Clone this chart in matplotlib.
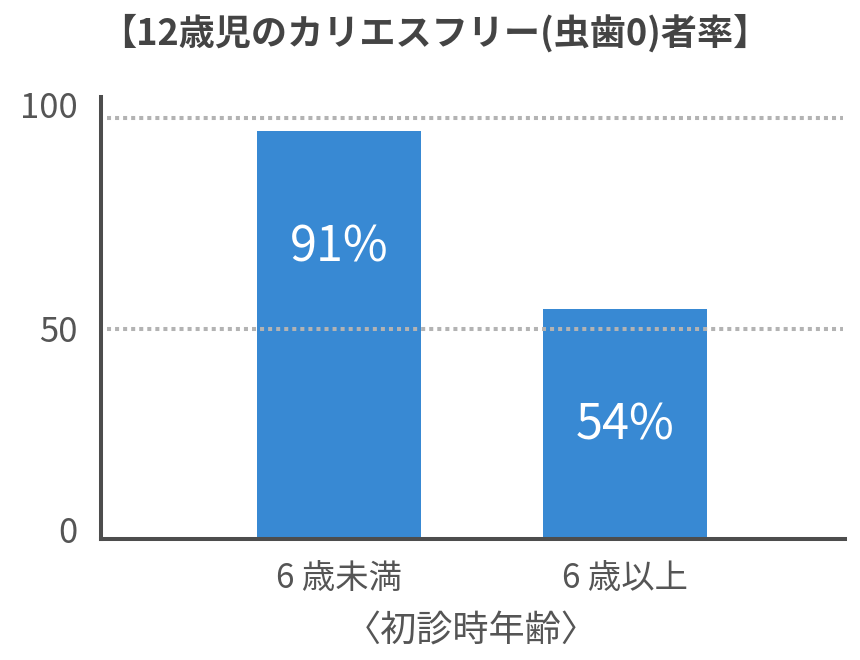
import matplotlib
matplotlib.use("Agg")
import matplotlib.pyplot as plt

plt.rcParams['font.family'] = ['Noto Sans CJK JP', 'DejaVu Sans']

# データ
categories = ['6 歳未満', '6 歳以上']
bar_heights = [97, 54.6]          # 図から読んだ棒の高さ
bar_labels = ['91%', '54%']
ytick_values = [2.2, 50, 103.3]    # 目盛り文字の位置（図に合わせる）
ytick_labels = ['0', '50', '100']
grid_values = [50, 100]

bar_color = '#3889d3'
axis_color = '#4d4d4d'
text_color = '#555555'

fig = plt.figure(figsize=(8.6, 6.6), dpi=100)
ax = fig.add_axes([101 / 860, 1 - 539 / 660, 744 / 860, 442 / 660])

x = list(range(len(categories)))
ax.bar(x, bar_heights, width=0.573, color=bar_color, zorder=1)

# 点線のグリッド（棒の上に描く）
for g in grid_values:
    ax.axhline(g, xmin=0.008, xmax=0.997, color='#b3b3b3', linewidth=2.9,
               linestyle=(0, (1, 1)), dash_capstyle='butt', zorder=3)

# 棒の中の数値
for xi, h, lab in zip(x, bar_heights, bar_labels):
    ax.text(xi, h - 26.5, lab, ha='center', va='center_baseline', color='white',
            fontsize=35, zorder=4)

ax.set_xlim(-0.832, 1.769)
ax.set_ylim(0, 105)
ax.set_xticks(x)
ax.set_xticklabels(categories, fontsize=24, color=text_color)
ax.set_yticks(ytick_values)
ax.set_yticklabels(ytick_labels, fontsize=25, color=text_color)
ax.tick_params(axis='both', length=0)
ax.tick_params(axis='x', pad=16)
ax.tick_params(axis='y', pad=17)

for s in ['top', 'right']:
    ax.spines[s].set_visible(False)
for s in ['left', 'bottom']:
    ax.spines[s].set_color(axis_color)
    ax.spines[s].set_linewidth(2.9)

fig.text(471 / 860, 1 - 632 / 660, '〈初診時年齢〉', ha='center', va='center',
         fontsize=26, color=text_color)

fig.text(435 / 860, 1 - 33 / 660, '【12歳児のカリエスフリー(虫歯0)者率】',
         ha='center', va='center', fontsize=26, fontweight='bold',
         color='#444444')

fig.savefig('out.png', dpi=100)
